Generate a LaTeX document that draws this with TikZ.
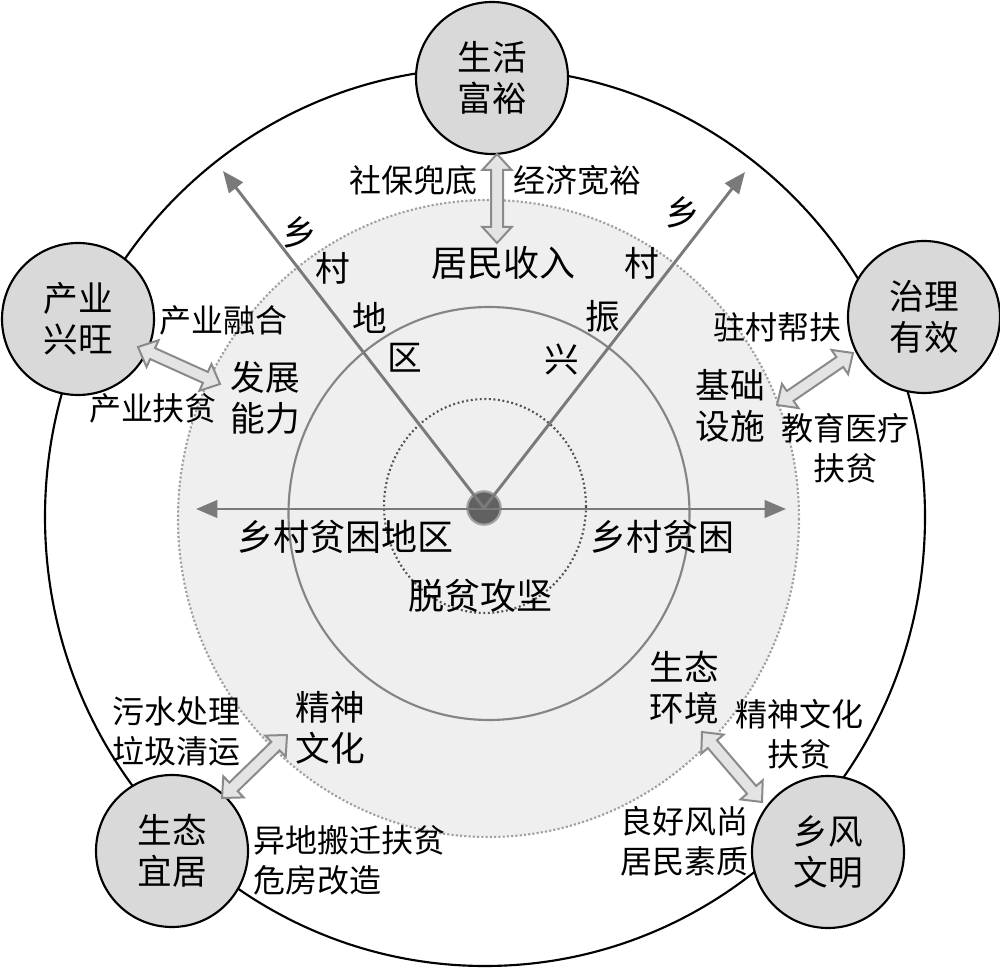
\documentclass[tikz,border=0pt]{standalone}
\usepackage{fontspec}
\setmainfont{Noto Sans CJK SC}
\usetikzlibrary{arrows.meta,calc}
\definecolor{ringfill}{HTML}{EFEFEF}
\definecolor{ringdot}{HTML}{A0A0A0}
\definecolor{midring}{HTML}{858585}
\definecolor{innerdot}{HTML}{505050}
\definecolor{axisgray}{HTML}{7A7A7A}
\definecolor{nodefill}{HTML}{D9D9D9}
\definecolor{fatfill}{HTML}{E4E4E4}
\definecolor{fatline}{HTML}{8A8A8A}
\newcommand\fatarrow[2]{%
  \coordinate (fa) at ($(#1)!12pt!(#2)$);
  \coordinate (fb) at ($(#2)!12pt!(#1)$);
  \draw[fat] (#1) -- ($(fa)!11pt!90:(#2)$) -- ($(fa)!4.5pt!90:(#2)$)
    -- ($(fb)!4.5pt!-90:(#1)$) -- ($(fb)!11pt!-90:(#1)$) -- (#2)
    -- ($(fb)!11pt!90:(#1)$) -- ($(fb)!4.5pt!90:(#1)$)
    -- ($(fa)!4.5pt!-90:(#2)$) -- ($(fa)!11pt!-90:(#2)$) -- cycle;
}
\begin{document}
\begin{tikzpicture}[x=0.75pt,y=-0.75pt,
  goal/.style={circle,draw=black,line width=1.6pt,fill=nodefill,minimum size=114pt,inner sep=0pt,
    align=center,font=\fontsize{26pt}{31pt}\selectfont},
  small/.style={inner sep=0pt,align=center,font=\fontsize{24pt}{30pt}\selectfont},
  big/.style={inner sep=0pt,align=center,font=\fontsize{27pt}{31pt}\selectfont},
  mid/.style={inner sep=0pt,align=center,font=\fontsize{26pt}{30.5pt}\selectfont},
  fat/.style={draw=fatline,fill=fatfill,line width=1.5pt,line join=miter},
  axis/.style={draw=axisgray,line width=2.2pt,-{Triangle[length=16pt,width=13pt]}},
]
\useasboundingbox (0,0) rectangle (1000,969);
% rings
\draw[black,line width=1.6pt] (485,517) ellipse [x radius=440,y radius=449];
\draw[ringdot,fill=ringfill,line width=1.6pt,dash pattern=on 1.6pt off 1.6pt] (488.5,518.5) ellipse [x radius=310.5,y radius=318.5];
\draw[midring,line width=1.6pt] (489,513.5) ellipse [x radius=200.5,y radius=206.5];
\draw[innerdot,line width=1.6pt,dash pattern=on 1.4pt off 2pt] (485,506) ellipse [x radius=101,y radius=107];

% centre and axes
\node[circle,draw=ringdot,fill=black!62,line width=1.6pt,minimum size=25pt,inner sep=0pt] (c) at (484,508) {};
\coordinate (cc) at (484,508);
\coordinate (axL) at (196,509);
\coordinate (axR) at (786,509);
\coordinate (tipL) at (223,171);
\coordinate (tipR) at (745,172);
\draw[axis,{Triangle[length=16pt,width=13pt]}-{Triangle[length=16pt,width=13pt]}] (axL) -- (axR);
\draw[axis] (cc) -- (tipL);
\draw[axis] (cc) -- (tipR);

% goal nodes
\node[goal] (top) at (492,78) {生活\\富裕};
\node[goal] (lft) at (78,319) {产业\\兴旺};
\node[goal] (rgt) at (924,317) {治理\\有效};
\node[goal] (bl) at (172,851) {生态\\宜居};
\node[goal] (br) at (828,852) {乡风\\文明};

% labels
\node[small] (sbdd) at (413,180) {社保兜底};
\node[small] (jjky) at (577,180) {经济宽裕};
\node[big] (jmsr) at (503,263) {居民收入};
\node[small] (cyrh) at (223,320) {产业融合};
\node[small] (cyfp) at (153,408) {产业扶贫};
\node[mid] (fznl) at (265,398) {发展\\能力};
\node[small] (zcbf) at (777,327) {驻村帮扶};
\node[mid] (jcss) at (730,406) {基础\\设施};
\node[small] (jyyl) at (845,448) {教育医疗\\扶贫};
\node[small] (wscl) at (176,731) {污水处理\\垃圾清运};
\node[mid] (jswh) at (330,728) {精神\\文化};
\node[small,align=left,anchor=west] (ydbq) at (253,860) {异地搬迁扶贫\\危房改造};
\node[mid] (stjj) at (684,688) {生态\\环境};
\node[small] (jswhfp) at (799,734) {精神文化\\扶贫};
\node[small] (lhfs) at (684,841) {良好风尚\\居民素质};
\node[big] (xcpkdq) at (345,537) {乡村贫困地区};
\node[big] (xcpk) at (662,537) {乡村贫困};
\node[big] (tpgj) at (480,596) {脱贫攻坚};
% diagonal labels
\node[mid] (d1) at (300,232) {乡};
\node[mid] (d2) at (333,268) {村};
\node[mid] (d3) at (370,318) {地};
\node[mid] (d4) at (405,358) {区};
\node[mid] (e1) at (683,212) {乡};
\node[mid] (e2) at (642,263) {村};
\node[mid] (e3) at (603,316) {振};
\node[mid] (e4) at (562,360) {兴};

% fat double arrows
\coordinate (p1a) at (497,154); \coordinate (p1b) at (497,243);
\coordinate (p2a) at (138,347); \coordinate (p2b) at (220,384);
\coordinate (p3a) at (777,405); \coordinate (p3b) at (853,353);
\coordinate (p4a) at (222,798); \coordinate (p4b) at (287,735);
\coordinate (p5a) at (702,732); \coordinate (p5b) at (762,802);
\fatarrow{p1a}{p1b}
\fatarrow{p2a}{p2b}
\fatarrow{p3a}{p3b}
\fatarrow{p4a}{p4b}
\fatarrow{p5a}{p5b}
\end{tikzpicture}
\end{document}
